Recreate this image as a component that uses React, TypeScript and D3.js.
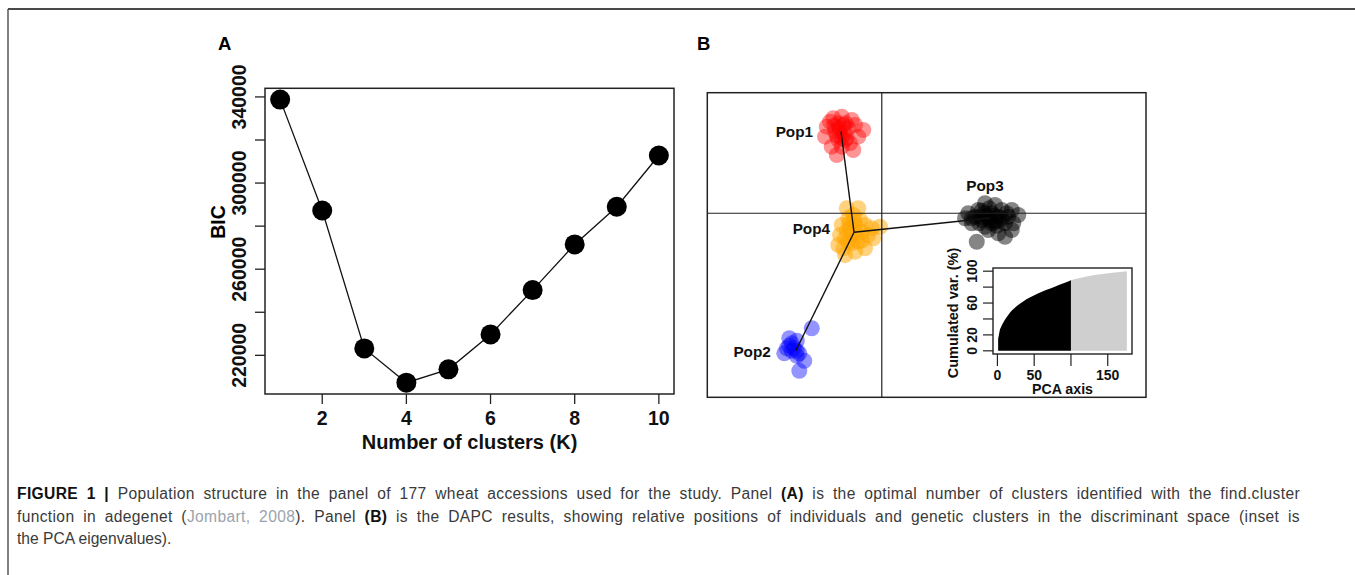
import React, { useLayoutEffect, useRef } from 'react';
import * as d3 from 'd3';

// ---------- Panel A data ----------
const kValues = [1, 2, 3, 4, 5, 6, 7, 8, 9, 10];
const bicValues = [338750, 287250, 223200, 207300, 213500, 229700, 250300, 271500, 289000, 312800];
const xTicksA = [2, 4, 6, 8, 10];
const yTicksA = [220000, 240000, 260000, 280000, 300000, 320000, 340000];
const yLabelsA = [220000, 260000, 300000, 340000];

// ---------- Panel B data (discriminant functions LD1, LD2) ----------
const pop1Points: [number, number][] = [
  [-2.2, 3.46], [-1.94, 3.8], [-1.6, 3.86], [-1.2, 3.73], [-0.74, 3.33], [-0.94, 3.06],
  [-1.14, 2.53], [-1.8, 2.33], [-2.0, 2.66], [-2.27, 3.06], [-1.67, 3.26], [-1.47, 2.93],
  [-1.74, 2.93], [-1.34, 3.4], [-1.87, 3.26], [-1.54, 3.53], [-2.07, 3.66], [-1.27, 2.8],
  [-1.6, 2.66], [-1.07, 3.53], [-1.7, 3.4], [-1.5, 3.2], [-1.8, 3.1], [-1.4, 3.0],
  [-1.9, 3.5], [-1.6, 3.0], [-1.75, 3.6], [-1.45, 3.6],
];
const pop2Points: [number, number][] = [
  [-2.8, -4.6], [-3.7, -5.0], [-3.4, -5.1], [-3.9, -5.6], [-3.6, -5.5], [-3.4, -5.5],
  [-3.1, -5.9], [-3.3, -6.3], [-3.7, -5.3], [-3.4, -5.7], [-3.6, -5.2], [-3.5, -5.4],
  [-3.3, -5.6], [-3.8, -5.4],
];
const pop3Points: [number, number][] = [
  [3.33, -0.2], [5.46, -0.07], [4.13, 0.4], [4.53, 0.33], [3.8, -1.14], [4.93, -0.94],
  [5.26, -0.4], [5.2, -0.67], [4.66, -0.8], [4.26, -0.67], [3.6, -0.4], [3.46, 0.0],
  [3.86, 0.13], [4.4, 0.0], [4.8, 0.13], [5.06, -0.14], [4.0, -0.27], [4.53, -0.34],
  [4.93, -0.4], [4.13, -0.54], [3.73, -0.14], [4.66, -0.14], [4.26, -0.2], [5.2, 0.13],
  [3.9, -0.4], [4.3, 0.2], [4.6, -0.5], [4.1, 0.0], [4.8, -0.2], [3.6, -0.2],
  [4.4, -0.4], [5.0, 0.0], [4.2, -0.1], [4.5, -0.1], [4.0, 0.1], [4.7, -0.3],
  [3.95, -0.15], [4.35, -0.3],
];
const pop4Points: [number, number][] = [
  [-1.4, 0.2], [-0.94, 0.2], [-1.34, -0.2], [-1.6, -0.47], [-1.67, -0.87], [-1.74, -1.27],
  [-1.47, -1.67], [-1.07, -1.54], [-0.67, -1.4], [-0.34, -1.0], [-0.07, -0.54], [-0.4, -0.6],
  [-0.8, -0.74], [-1.2, -0.87], [-1.34, -1.14], [-0.94, -1.14], [-0.67, -0.47], [-1.07, -0.47],
  [-1.27, -0.6], [-1.47, -1.0], [-0.54, -0.87], [-1.14, -0.07], [-0.87, -0.27], [-1.54, -1.4],
  [-1.0, -0.9], [-1.2, -1.2], [-0.8, -1.1], [-1.4, -0.7], [-1.1, -0.3], [-1.3, -0.4],
];
const popNames = ['Pop1', 'Pop2', 'Pop3', 'Pop4'];
const popColors = ['#FF0000', '#0000FF', '#000000', '#FFA500'];
const popOpacity = [0.42, 0.42, 0.48, 0.5];
const popPoints = [pop1Points, pop2Points, pop3Points, pop4Points];
const centroidX = [-1.63, -3.44, 4.33, -1.11];
const centroidY = [3.26, -5.5, -0.19, -0.76];
const mstEdges: [number, number][] = [[0, 3], [3, 2], [3, 1]];

// ---------- Inset: PCA cumulated variance ----------
const pcaRetainedAxis = [1, 2, 3, 5, 8, 12, 17, 26, 35, 44, 55, 66, 78, 89, 100];
const pcaRetainedCum = [15, 20, 25, 30, 35.5, 41.5, 47.8, 55.9, 62, 66.9, 72, 76.3, 80.5, 84.5, 88.6];
const pcaDroppedAxis = [100, 112, 134, 157, 176];
const pcaDroppedCum = [88.6, 91.4, 95.5, 98, 100];
const insetXTicks = [0, 50, 100, 150];
const insetXLabels = [0, 50, 150];
const insetYTicks = [0, 20, 40, 60, 80, 100];
const insetYLabels = [0, 20, 60, 100];

const FONT = '"Liberation Sans", Arial, Helvetica, sans-serif';
const CAPTION_WIDTH = 1283;

export default function App() {
  const line1 = useRef<SVGTextElement>(null);
  const line2 = useRef<SVGTextElement>(null);

  useLayoutEffect(() => {
    [line1.current, line2.current].forEach((el) => {
      if (!el) return;
      el.setAttribute('word-spacing', '0');
      const natural = el.getComputedTextLength();
      const spaces = (el.textContent || '').split(' ').length - 1;
      if (spaces > 0) el.setAttribute('word-spacing', String(Math.max(0, (CAPTION_WIDTH - natural) / spaces)));
    });
  }, []);

  // Panel A scales
  const ax = d3.scaleLinear().domain([0.64, 10.36]).range([265, 674]);
  const [bmin, bmax] = d3.extent(bicValues) as [number, number];
  const pad = (bmax - bmin) * 0.04;
  const ay = d3.scaleLinear().domain([bmin - pad, bmax + pad]).range([394, 88.3]);
  const lineA = d3.line<number>().x((_, i) => ax(kValues[i])).y((d) => ay(d));

  // Panel B scales
  const bx = d3.scaleLinear().domain([-6.98, 10.57]).range([707.3, 1146]);
  const by = d3.scaleLinear().domain([-7.36, 4.82]).range([397.3, 92.7]);

  // Inset scales
  const ix = d3.scaleLinear().domain([-6, 183]).range([993, 1132]);
  const iy = d3.scaleLinear().domain([-4, 104]).range([354, 268]);
  const retained = d3
    .area<number>()
    .curve(d3.curveMonotoneX)
    .x((_, i) => ix(pcaRetainedAxis[i]))
    .y0(iy(0))
    .y1((d) => iy(d))(pcaRetainedCum) as string;
  const dropped = d3
    .area<number>()
    .curve(d3.curveMonotoneX)
    .x((_, i) => ix(pcaDroppedAxis[i]))
    .y0(iy(0))
    .y1((d) => iy(d))(pcaDroppedCum) as string;

  const labelPos = [
    { x: bx(centroidX[0]) - 28, y: by(centroidY[0]) + 5.5, anchor: 'end' },
    { x: bx(centroidX[1]) - 25, y: by(centroidY[1]) + 6.5, anchor: 'end' },
    { x: bx(centroidX[2]) - 5, y: by(centroidY[2]) - 27, anchor: 'middle' },
    { x: bx(centroidX[3]) - 24, y: by(centroidY[3]) + 2, anchor: 'end' },
  ];

  return (
    <svg
      width={1355}
      height={575}
      style={{ position: 'absolute', left: 0, top: 0, background: '#fff' }}
      fontFamily={FONT}
    >
      <rect x={0} y={0} width={1355} height={575} fill="#fff" />
      {/* outer frame */}
      <line x1={8} y1={9} x2={1360} y2={9} stroke="#4a4a4a" strokeWidth={2} />
      <line x1={8} y1={9} x2={8} y2={580} stroke="#4a4a4a" strokeWidth={1.4} />

      {/* ---------- Panel A ---------- */}
      <text x={218} y={49.5} fontSize={18.5} fontWeight="bold">A</text>
      <rect x={265} y={88.3} width={409} height={305.7} fill="none" stroke="#222" strokeWidth={1.5} />
      {yTicksA.map((t) => (
        <line key={t} x1={255} x2={265} y1={ay(t)} y2={ay(t)} stroke="#222" strokeWidth={1.3} />
      ))}
      {yLabelsA.map((t) => (
        <text
          key={t}
          transform={`translate(238.5,${ay(t)}) rotate(-90)`}
          textAnchor="middle"
          dy="0.36em"
          fontSize={19.5}
          fontWeight="bold"
          fill="#111"
        >
          {t}
        </text>
      ))}
      <text transform="translate(217.5,222) rotate(-90)" textAnchor="middle" dy="0.36em" fontSize={19.5} fontWeight="bold">
        BIC
      </text>
      {xTicksA.map((t) => (
        <g key={t}>
          <line x1={ax(t)} x2={ax(t)} y1={394} y2={404} stroke="#222" strokeWidth={1.3} />
          <text x={ax(t)} y={418.3} dy="0.36em" textAnchor="middle" fontSize={19.5} fontWeight="bold" fill="#111">
            {t}
          </text>
        </g>
      ))}
      <text x={469.5} y={442} dy="0.36em" textAnchor="middle" fontSize={20} fontWeight="bold" fill="#111">
        Number of clusters (K)
      </text>
      <path d={lineA(bicValues) as string} fill="none" stroke="#111" strokeWidth={1.3} />
      {bicValues.map((v, i) => (
        <circle key={i} cx={ax(kValues[i])} cy={ay(v)} r={10} fill="#000" />
      ))}

      {/* ---------- Panel B ---------- */}
      <text x={697} y={49.5} fontSize={18.5} fontWeight="bold">B</text>
      {popPoints.map((pts, p) =>
        pts.map((d, i) => (
          <circle
            key={`${p}-${i}`}
            cx={bx(d[0])}
            cy={by(d[1])}
            r={8}
            fill={popColors[p]}
            fillOpacity={popOpacity[p]}
          />
        ))
      )}
      <line x1={bx(0)} x2={bx(0)} y1={92.7} y2={397.3} stroke="#222" strokeWidth={1.2} />
      <line x1={707.3} x2={1146} y1={by(0)} y2={by(0)} stroke="#222" strokeWidth={1.2} />
      {mstEdges.map(([a, b], i) => (
        <line
          key={i}
          x1={bx(centroidX[a])}
          y1={by(centroidY[a])}
          x2={bx(centroidX[b])}
          y2={by(centroidY[b])}
          stroke="#111"
          strokeWidth={1.4}
        />
      ))}
      {popNames.map((n, i) => (
        <text
          key={n}
          x={labelPos[i].x}
          y={labelPos[i].y}
          textAnchor={labelPos[i].anchor as any}
          fontSize={15.3}
          fontWeight="bold"
          fill="#111"
        >
          {n}
        </text>
      ))}
      <rect x={707.3} y={92.7} width={438.7} height={304.6} fill="none" stroke="#222" strokeWidth={1.5} />

      {/* ---------- Inset ---------- */}
      <rect x={993} y={268} width={139} height={86} fill="#fff" stroke="#222" strokeWidth={1.4} />
      <path d={retained} fill="#000" />
      <path d={dropped} fill="#cfcfcf" />
      {insetYTicks.map((t) => (
        <line key={t} x1={983} x2={993} y1={iy(t)} y2={iy(t)} stroke="#222" strokeWidth={1.2} />
      ))}
      {insetYLabels.map((t) => (
        <text
          key={t}
          transform={`translate(971.5,${iy(t)}) rotate(-90)`}
          textAnchor="middle"
          dy="0.36em"
          fontSize={14}
          fontWeight="bold"
          fill="#111"
        >
          {t}
        </text>
      ))}
      <text transform="translate(953,313) rotate(-90)" textAnchor="middle" dy="0.36em" fontSize={14.5} fontWeight="bold" fill="#111">
        Cumulated var. (%)
      </text>
      {insetXTicks.map((t) => (
        <line key={t} x1={ix(t)} x2={ix(t)} y1={354} y2={366} stroke="#222" strokeWidth={1.2} />
      ))}
      {insetXLabels.map((t) => (
        <text key={t} x={ix(t)} y={375} dy="0.36em" textAnchor="middle" fontSize={14} fontWeight="bold" fill="#111">
          {t}
        </text>
      ))}
      <text x={1062.5} y={389} dy="0.36em" textAnchor="middle" fontSize={14.2} fontWeight="bold" fill="#111">
        PCA axis
      </text>

      {/* ---------- Caption ---------- */}
      <g fontSize={15.6} fill="#3a3a3a">
        <text ref={line1} x={17} y={499} letterSpacing={0.35}>
          <tspan fontWeight="bold" fill="#111">FIGURE 1 |</tspan>
          <tspan> Population structure in the panel of 177 wheat accessions used for the study. Panel </tspan>
          <tspan fontWeight="bold" fill="#111">(A)</tspan>
          <tspan> is the optimal number of clusters identified with the find.cluster</tspan>
        </text>
        <text ref={line2} x={17} y={521.5} letterSpacing={0.35}>
          <tspan>function in adegenet (</tspan>
          <tspan fill="#9aa3ad">Jombart, 2008</tspan>
          <tspan>). Panel </tspan>
          <tspan fontWeight="bold" fill="#111">(B)</tspan>
          <tspan> is the DAPC results, showing relative positions of individuals and genetic clusters in the discriminant space (inset is</tspan>
        </text>
        <text x={17} y={544}>the PCA eigenvalues).</text>
      </g>
    </svg>
  );
}
